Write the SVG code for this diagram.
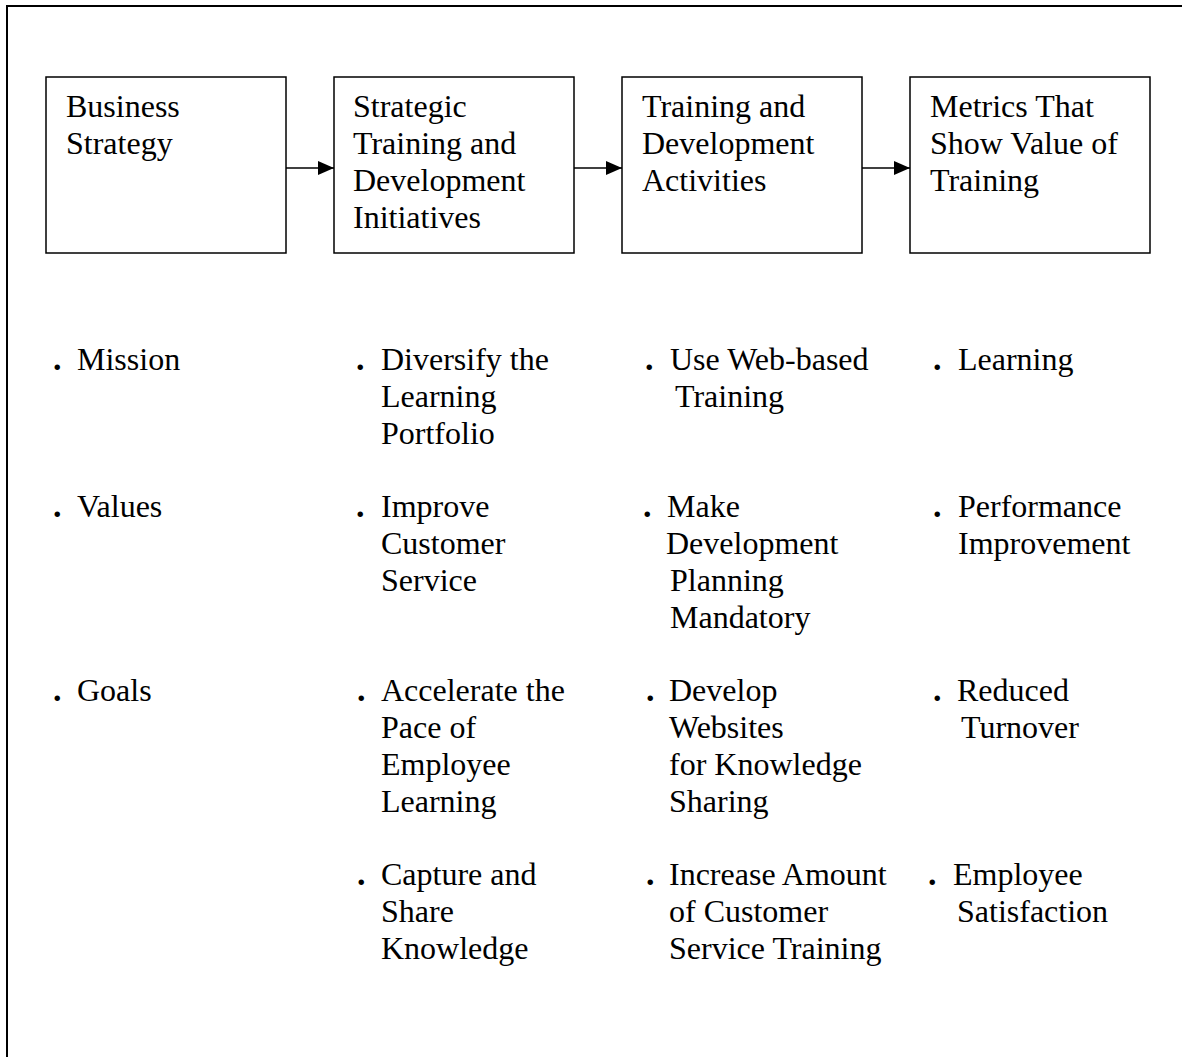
<svg xmlns="http://www.w3.org/2000/svg" width="1182" height="1057" viewBox="0 0 1182 1057">
<style>
.box{fill:#fff;stroke:#000;stroke-width:1.5}
.t{font-family:"Liberation Serif","Times New Roman",serif;font-size:32px;fill:#000}
.d{font-family:"Liberation Serif","Times New Roman",serif;font-size:34px;font-weight:bold;fill:#000}
.c{stroke:#000;stroke-width:1.5;fill:none}
</style>
<defs>
<marker id="ah" markerWidth="16" markerHeight="14" refX="16" refY="7" orient="auto" markerUnits="userSpaceOnUse">
<path d="M0,0 L16,7 L0,14 Z" fill="#000"/>
</marker>
</defs>
<rect width="1182" height="1057" fill="#fff"/>
<g id="frame">
<path d="M7,1057 V6 H1182" stroke="#000" stroke-width="2" fill="none"/>
</g>
<g id="node-business-strategy">
<rect class="box" x="46" y="77" width="240" height="176"/>
<text class="t" x="66" y="117">Business</text>
<text class="t" x="66" y="154">Strategy</text>
</g>
<g id="node-strategic-initiatives">
<rect class="box" x="334" y="77" width="240" height="176"/>
<text class="t" x="353" y="117">Strategic</text>
<text class="t" x="353" y="154">Training and</text>
<text class="t" x="353" y="191">Development</text>
<text class="t" x="353" y="228">Initiatives</text>
</g>
<g id="node-activities">
<rect class="box" x="622" y="77" width="240" height="176"/>
<text class="t" x="642" y="117">Training and</text>
<text class="t" x="642" y="154">Development</text>
<text class="t" x="642" y="191">Activities</text>
</g>
<g id="node-metrics">
<rect class="box" x="910" y="77" width="240" height="176"/>
<text class="t" x="930" y="117">Metrics That</text>
<text class="t" x="930" y="154">Show Value of</text>
<text class="t" x="930" y="191">Training</text>
</g>
<g id="connectors">
<line class="c" x1="286" y1="168" x2="334" y2="168" marker-end="url(#ah)"/>
<line class="c" x1="574" y1="168" x2="622" y2="168" marker-end="url(#ah)"/>
<line class="c" x1="862" y1="168" x2="910" y2="168" marker-end="url(#ah)"/>
</g>
<g id="list-business-strategy">
<text class="d" x="53" y="370">.</text><text class="t" x="77" y="370">Mission</text>
<text class="d" x="53" y="517">.</text><text class="t" x="77" y="517">Values</text>
<text class="d" x="53" y="701">.</text><text class="t" x="77" y="701">Goals</text>
</g>
<g id="list-initiatives">
<text class="d" x="356" y="370">.</text><text class="t" x="381" y="370">Diversify the</text>
<text class="t" x="381" y="407">Learning</text>
<text class="t" x="381" y="444">Portfolio</text>
<text class="d" x="356" y="517">.</text><text class="t" x="381" y="517">Improve</text>
<text class="t" x="381" y="554">Customer</text>
<text class="t" x="381" y="591">Service</text>
<text class="d" x="357" y="701">.</text><text class="t" x="381" y="701">Accelerate the</text>
<text class="t" x="381" y="738">Pace of</text>
<text class="t" x="381" y="775">Employee</text>
<text class="t" x="381" y="812">Learning</text>
<text class="d" x="357" y="885">.</text><text class="t" x="381" y="885">Capture and</text>
<text class="t" x="381" y="922">Share</text>
<text class="t" x="381" y="959">Knowledge</text>
</g>
<g id="list-activities">
<text class="d" x="645" y="370">.</text><text class="t" x="670" y="370">Use Web-based</text>
<text class="t" x="675" y="407">Training</text>
<text class="d" x="643" y="517">.</text><text class="t" x="667" y="517">Make</text>
<text class="t" x="666" y="554">Development</text>
<text class="t" x="670" y="591">Planning</text>
<text class="t" x="670" y="628">Mandatory</text>
<text class="d" x="646" y="701">.</text><text class="t" x="669" y="701">Develop</text>
<text class="t" x="669" y="738">Websites</text>
<text class="t" x="669" y="775">for Knowledge</text>
<text class="t" x="669" y="812">Sharing</text>
<text class="d" x="646" y="885">.</text><text class="t" x="669" y="885">Increase Amount</text>
<text class="t" x="669" y="922">of Customer</text>
<text class="t" x="669" y="959">Service Training</text>
</g>
<g id="list-metrics">
<text class="d" x="933" y="370">.</text><text class="t" x="958" y="370">Learning</text>
<text class="d" x="933" y="517">.</text><text class="t" x="958" y="517">Performance</text>
<text class="t" x="958" y="554">Improvement</text>
<text class="d" x="933" y="701">.</text><text class="t" x="957" y="701">Reduced</text>
<text class="t" x="961" y="738">Turnover</text>
<text class="d" x="928" y="885">.</text><text class="t" x="953" y="885">Employee</text>
<text class="t" x="957" y="922">Satisfaction</text>
</g>
</svg>
